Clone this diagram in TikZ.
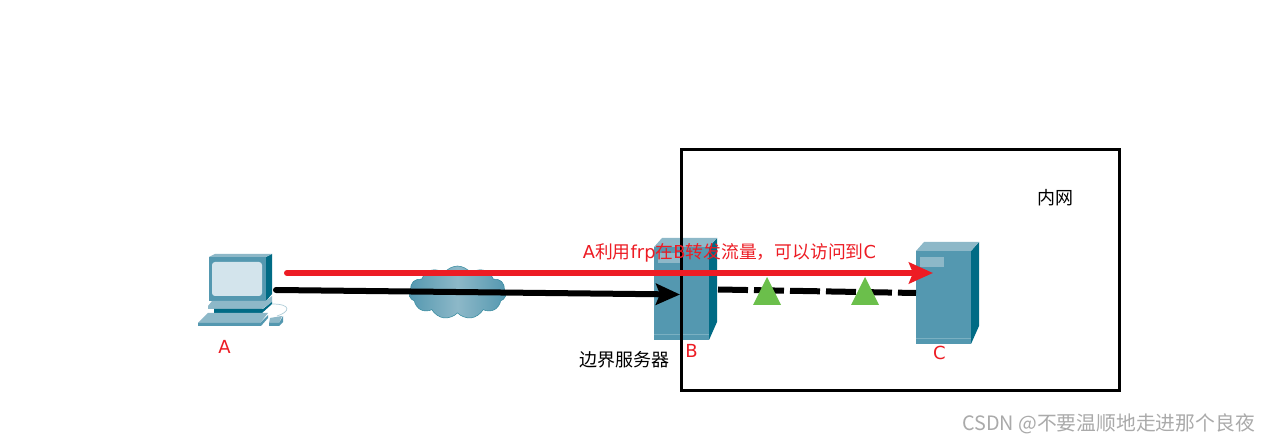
\documentclass[tikz,border=0pt]{standalone}
\usepackage{fontspec}
\setmainfont{DejaVu Sans}
\newfontfamily\cjk{Noto Sans CJK SC}
\usepackage{xcolor}
\usetikzlibrary{arrows.meta,shapes.symbols}
\definecolor{DevFront}{RGB}{84, 152, 176}
\definecolor{DevSide}{RGB}{0, 107, 133}
\definecolor{DevTop}{RGB}{141, 184, 200}
\definecolor{DevBand}{RGB}{122, 176, 194}
\definecolor{DevScreen}{RGB}{211, 228, 236}
\definecolor{RedInk}{RGB}{237, 28, 36}
\definecolor{Marker}{RGB}{107, 191, 75}
\definecolor{Mark}{RGB}{170, 170, 170}
\newcommand{\serverparts}[3]{%
  \fill[DevSide] (#1.north east) -- ++(8,-9) -- ++(0,#2) -- (#1.south east) -- cycle;
  \fill[DevTop] (#1.north west) -- ++(8,-9) -- ++(55,0) -- (#1.north east) -- cycle;
  \draw[DevBand, line width=1pt] ([yshift=5.5pt]#1.south west) -- ([yshift=5.5pt]#1.south east);
  \fill[DevTop] ([shift={(4,6)}]#1.north west) rectangle ++(#3,10);
}
\begin{document}
\begin{tikzpicture}[
    x=1pt, y=-1pt,
    serverfront/.style={rectangle, fill=DevFront, minimum width=55pt, minimum height=93pt, inner sep=0pt, outer sep=0pt},
    screenface/.style={rectangle, rounded corners=3pt, fill=DevScreen, minimum width=50pt, minimum height=34pt, inner sep=0pt},
    wan/.style={cloud, cloud puffs=11, cloud puff arc=110, aspect=1.9, draw=DevSide!80, line width=0.5pt, left color=DevFront, right color=DevFront, middle color=DevTop, minimum width=97pt, minimum height=53pt, inner sep=0pt, outer sep=0pt},
    redtext/.style={RedInk, font=\fontsize{18}{22}\selectfont, inner sep=0pt},
    blacktext/.style={black, font=\fontsize{18}{22}\selectfont, inner sep=0pt},
    blackarr/.style={line width=6pt, black, line cap=round, -{Stealth[length=24pt, width=21pt, inset=4pt]}},
    redarr/.style={line width=6pt, RedInk, line cap=round, -{Stealth[length=24pt, width=21pt, inset=4pt]}},
    tunnel/.style={line width=6pt, black, dash pattern=on 30pt off 6pt},
]
\useasboundingbox (0,0) rectangle (1270,443);
\fill[white] (0,0) rectangle (1270,443);

% computer A
\node[rectangle, fill=DevFront, minimum width=57pt, minimum height=44pt, inner sep=0pt, outer sep=0pt] (pcA) at (237.5,279) {};
\fill[DevSide] (pcA.north east) -- ++(6,-3) -- ++(0,40) -- (pcA.south east) -- cycle;
\fill[DevTop] (pcA.north west) -- ++(6,-3) -- ++(57,0) -- (pcA.north east) -- cycle;
\node[screenface] (screenA) at (237,279) {};
\fill[DevTop] (212,301) -- (266,301) -- (272,296) -- (272,302) -- (262,309) -- (208,309) -- (208,306) -- cycle;
\fill[DevSide] (214,309) -- (263,309) -- (272,302) -- (272,304) -- (262,313) -- (214,313) -- cycle;
\fill[DevTop] (208,313) -- (268,313) -- (260,323) -- (198,323) -- cycle;
\fill[DevFront] (198,323) -- (260,323) -- (268,315) -- (268,318) -- (261,326) -- (198,326) -- cycle;
\fill[DevTop] (270,318) -- (282,316) -- (279,323) -- (269,323) -- cycle;
\fill[DevFront] (269,323) -- (279,323) -- (283,316) -- (283,322) -- (279,326) -- (269,326) -- cycle;
\draw[DevTop!70, line width=0.7pt] (272,304) .. controls (292,304) and (290,312) .. (277,316);

% cloud between A and B
\node[wan] (netCloud) at (457.5,292.5) {};

% servers
\node[serverfront] (serverB) at (681.5,293.5) {};
\serverparts{serverB}{84}{23}
\node[serverfront] (serverC) at (943.5,297.5) {};
\serverparts{serverC}{84}{24}

% frame of the inner network
\node[rectangle, draw=black, line width=3pt, minimum width=437.5pt, minimum height=241.5pt, inner sep=0pt, outer sep=0pt] (innerNet) at (900.25,270.25) {};

\coordinate (pcOut) at (276,290);
\coordinate (blackEnd) at (680,294.5);
\coordinate (redStart) at (287,273);
\coordinate (redEnd) at (933,273);
\coordinate (tunnelStart) at (718,289.5);
\coordinate (tunnelEnd) at (916,293);

\draw[blackarr] (pcOut) -- (blackEnd);
\draw[tunnel] (tunnelStart) -- (tunnelEnd);
\draw[redarr] (redStart) -- (redEnd);

\fill[Marker] (767,277) -- (781,305) -- (753,305) -- cycle;
\fill[Marker] (865,277) -- (879,305) -- (851,305) -- cycle;

\node[redtext] (labelFlow) at (729.5,253) {\fontsize{17.8}{22}\selectfont A{\cjk 利用}frp{\cjk 在}B{\cjk 转发流量，可以访问到}C};
\node[redtext] (labelA) at (224.5,347) {A};
\node[redtext] (labelB) at (691.5,351) {B};
\node[redtext] (labelC) at (939.5,353) {C};
\node[blacktext] (labelInner) at (1055,198) {\cjk 内网};
\node[blacktext] (labelEdge) at (624,360) {\cjk 边界服务器};
\node[Mark, font=\fontsize{19.8}{24}\selectfont, inner sep=0pt] (watermark) at (1108.5,424) {\cjk CSDN @不要温顺地走进那个良夜};
\end{tikzpicture}
\end{document}
